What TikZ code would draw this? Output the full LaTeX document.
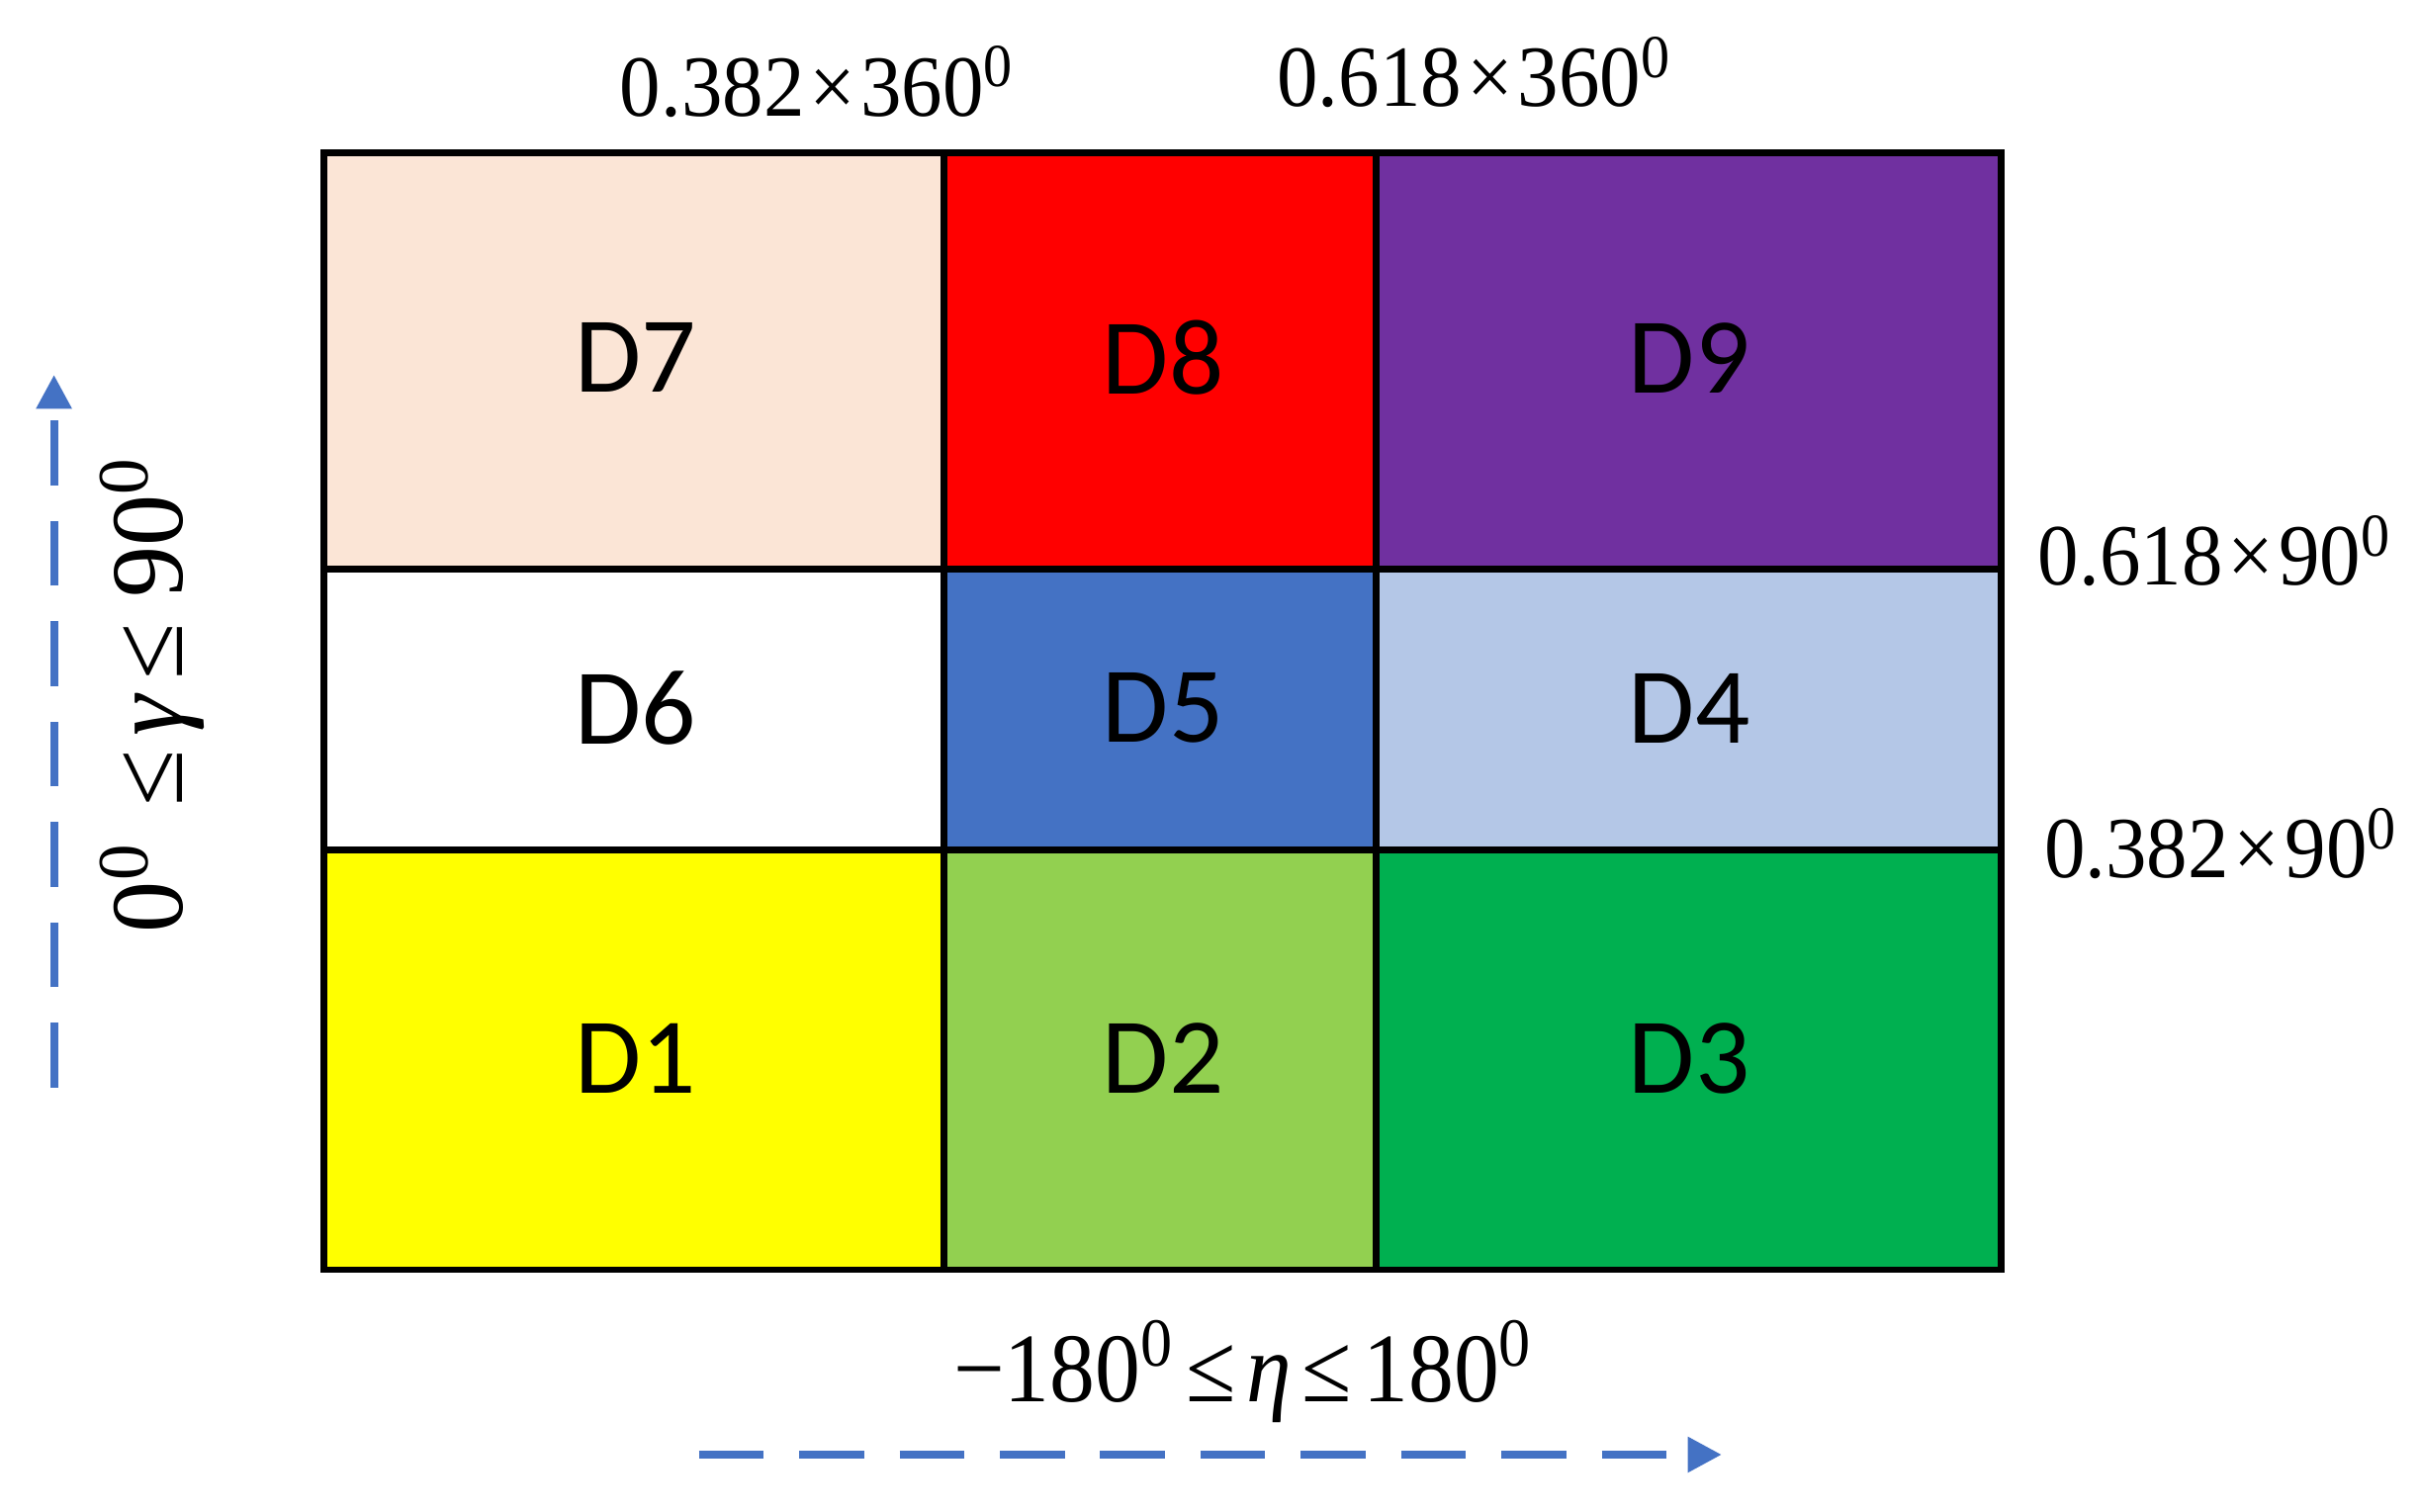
\documentclass[tikz,border=0pt]{standalone}
\usepackage{fontspec}
\setmainfont{Liberation Serif}
\newfontfamily\calib{Carlito}
\usetikzlibrary{arrows.meta}
\definecolor{cPeach}{HTML}{FBE5D6}
\definecolor{cRed}{HTML}{FF0000}
\definecolor{cPurple}{HTML}{7030A0}
\definecolor{cBlue}{HTML}{4472C4}
\definecolor{cLightBlue}{HTML}{B4C7E7}
\definecolor{cYellow}{HTML}{FFFF00}
\definecolor{cLGreen}{HTML}{92D050}
\definecolor{cGreen}{HTML}{00B050}
\definecolor{cArrow}{HTML}{4472C4}
\newcommand{\mytms}{\kern0.06em×\kern0.06em}
\newcommand{\myleq}{\kern0.12em≤\kern0.12em}
\newcommand{\mysup}{\textsuperscript{0}}
\tikzset{
  cell/.style={draw=black, line width=1.2pt, inner sep=0pt, minimum width=#1},
  rowA/.style={minimum height=2.70cm},
  rowB/.style={minimum height=1.82cm},
  rowC/.style={minimum height=2.72cm},
  dlabel/.style={font=\calib\fontsize{19.9}{24}\selectfont},
  anglabel/.style={font=\fontsize{15.6}{18}\selectfont, inner sep=0pt},
  axislabel/.style={font=\fontsize{17.6}{20}\selectfont, inner sep=0pt},
  vaxislabel/.style={font=\fontsize{19}{22}\selectfont, inner sep=0pt},
  axisarrow/.style={draw=cArrow, line width=0.05cm, dash pattern=on 0.42cm off 0.23cm,
    -{Triangle[length=0.22cm,width=0.22cm]}}
}
\begin{document}
\begin{tikzpicture}[x=0.01cm,y=-0.01cm]
\useasboundingbox (0,0) rectangle (1568,980);
% cells
\node[cell=4.02cm, rowA, fill=cPeach]     (D7) at (411,234) {};
\node[cell=2.80cm, rowA, fill=cRed]       (D8) at (752,234) {};
\node[cell=4.05cm, rowA, fill=cPurple]    (D9) at (1094.5,234) {};
\node[cell=4.02cm, rowB, fill=white]      (D6) at (411,460) {};
\node[cell=2.80cm, rowB, fill=cBlue]      (D5) at (752,460) {};
\node[cell=4.05cm, rowB, fill=cLightBlue] (D4) at (1094.5,460) {};
\node[cell=4.02cm, rowC, fill=cYellow]    (D1) at (411,687) {};
\node[cell=2.80cm, rowC, fill=cLGreen]    (D2) at (752,687) {};
\node[cell=4.05cm, rowC, fill=cGreen]     (D3) at (1094.5,687) {};
% cell labels
\node[dlabel] (L7) at (412,232) {D7};
\node[dlabel] (L8) at (754,232) {D8};
\node[dlabel] (L9) at (1095,232) {D9};
\node[dlabel] (L6) at (412,459) {D6};
\node[dlabel] (L5) at (754,459) {D5};
\node[dlabel] (L4) at (1095,459) {D4};
\node[dlabel] (L1) at (412,686) {D1};
\node[dlabel] (L2) at (754,686) {D2};
\node[dlabel] (L3) at (1095,686) {D3};
% angle labels
\node[anglabel] (t1) at (530,53) {\scalebox{0.97}[1.03]{0.382\mytms 360\mysup}};
\node[anglabel] (t2) at (956,47) {\scalebox{0.97}[1.03]{0.618\mytms 360\mysup}};
\node[anglabel] (r1) at (1436,357) {\scalebox{0.97}[1.03]{0.618\mytms 90\mysup}};
\node[anglabel] (r2) at (1440,547) {\scalebox{0.97}[1.03]{0.382\mytms 90\mysup}};
\node[axislabel] (bx) at (806,889) {\scalebox{0.95}[1.03]{−180\mysup\myleq\textit{η}\myleq 180\mysup}};
\node[vaxislabel, rotate=90, anchor=base] (by) at (118,450)
  {0\mysup\kern0.35em≤\kern0.13em\textit{γ}\kern0.13em≤\kern0.25em 90\mysup};
% arrows
\coordinate (ya) at (35,705);
\coordinate (yb) at (35,243);
\coordinate (xa) at (453,943);
\coordinate (xb) at (1116,943);
\draw[axisarrow] (ya) -- (yb);
\draw[axisarrow] (xa) -- (xb);
\end{tikzpicture}
\end{document}
